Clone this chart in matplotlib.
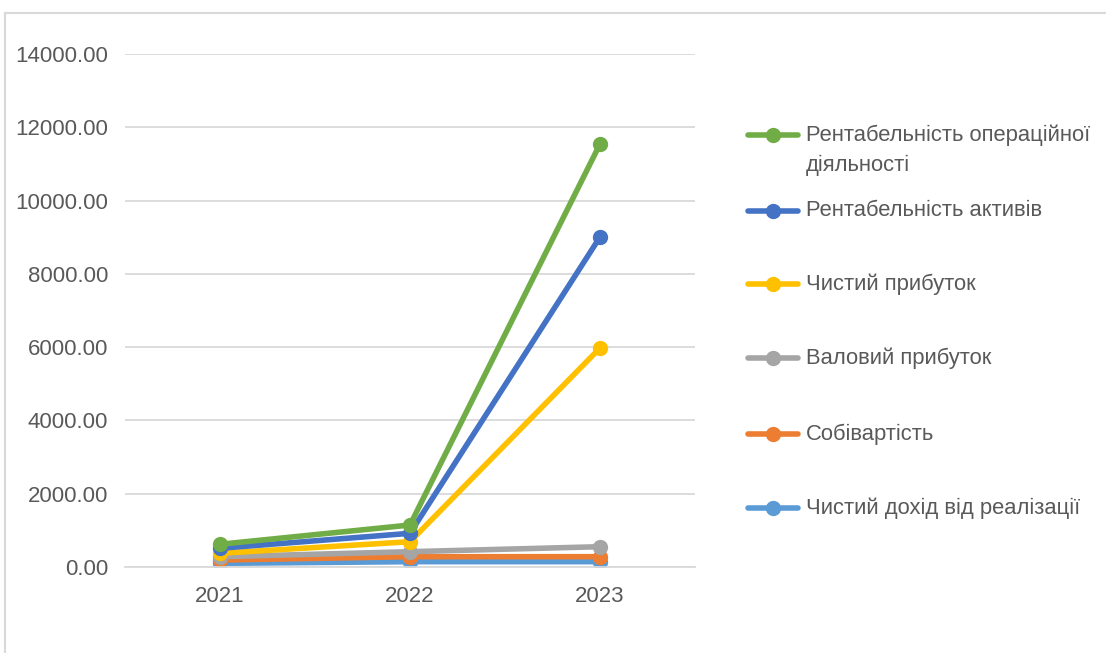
import matplotlib
matplotlib.use("Agg")
import matplotlib.pyplot as plt
from matplotlib.lines import Line2D

years = ["2021", "2022", "2023"]

series_names = [
    "Рентабельність операційної\nдіяльності",
    "Рентабельність активів",
    "Чистий прибуток",
    "Валовий прибуток",
    "Собівартість",
    "Чистий дохід від реалізації",
]
series_colors = ["#70AD47", "#4472C4", "#FFC000", "#A5A5A5", "#ED7D31", "#5B9BD5"]

oper_profitability = [620, 1146, 11544]
asset_profitability = [510, 920, 9006]
net_profit = [374, 690, 5977]
gross_profit = [280, 418, 554]
cost_price = [190, 281, 281]
net_revenue = [100, 145, 145]

series_values = [oper_profitability, asset_profitability, net_profit,
                 gross_profit, cost_price, net_revenue]

plt.rcParams['font.family'] = ['Liberation Sans', 'DejaVu Sans']
text_color = "#595959"
grid_color = "#D9D9D9"

W, H = 1106, 653
fig = plt.figure(figsize=(W / 100, H / 100), dpi=100)
ax = fig.add_axes([125 / W, 1 - 567 / H, 570 / W, 513 / H])

x = list(range(len(years)))
# last series drawn first so the green one ends up on top
for name, color, vals in reversed(list(zip(series_names, series_colors, series_values))):
    ax.plot(x, vals, color=color, lw=4, marker='o', ms=10, solid_capstyle='round')

ax.set_xlim(-0.5, 2.5)
ax.set_ylim(0, 14000)
ax.set_yticks(range(0, 14001, 2000))
ax.set_yticklabels([f"{v:.2f}" for v in range(0, 14001, 2000)])
ax.set_xticks(x)
ax.set_xticklabels(years)
ax.tick_params(axis='y', length=0, pad=12, labelsize=16, labelcolor=text_color)
ax.tick_params(axis='x', length=0, pad=14, labelsize=16, labelcolor=text_color)
ax.grid(axis='y', color=grid_color, lw=1.3)
ax.set_axisbelow(True)
for s in ['top', 'right', 'left']:
    ax.spines[s].set_visible(False)
ax.spines['bottom'].set_color(grid_color)
ax.spines['bottom'].set_linewidth(1.3)

# legend drawn by hand so the marker sits on the first text line
legend_y = [135, 211, 284, 358, 434, 508]
for name, color, py in zip(series_names, series_colors, legend_y):
    yf = 1 - py / H
    fig.add_artist(Line2D([748 / W, 798 / W], [yf, yf], color=color, lw=4,
                          solid_capstyle='round'))
    fig.add_artist(Line2D([773 / W], [yf], color=color, marker='o', ms=10))
    if '\n' in name:
        fig.text(806 / W, 1 - (py - 10) / H, name, ha='left', va='top',
                 fontsize=15.8, color=text_color, linespacing=1.5)
    else:
        fig.text(806 / W, yf, name, ha='left', va='center',
                 fontsize=15.8, color=text_color)

# chart area border
fig.add_artist(Line2D([5 / W, 1], [1 - 13 / H, 1 - 13 / H], color=grid_color, lw=1.5))
fig.add_artist(Line2D([5 / W, 5 / W], [1 - 13 / H, 0], color=grid_color, lw=1.5))

fig.savefig("out.png", dpi=100)
